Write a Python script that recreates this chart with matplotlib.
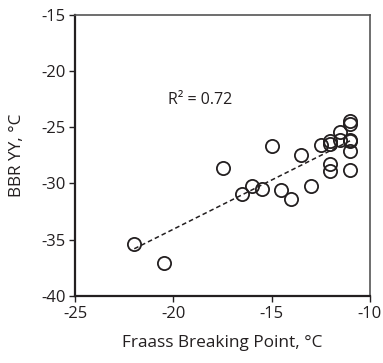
import numpy as np
import matplotlib.pyplot as plt

plt.rcParams['font.family'] = ['Open Sans', 'DejaVu Sans']
plt.rcParams['axes.unicode_minus'] = False

# Fraass breaking point vs BBR temperature
fraass = [-22, -20.5, -17.5, -16.5, -16, -15.5, -15, -14.5, -14, -13.5, -13,
          -12.5, -12, -12, -12, -12, -11.5, -11.5, -11, -11, -11, -11, -11, -11]
bbr = [-35.4, -37.1, -28.6, -30.9, -30.2, -30.5, -26.7, -30.6, -31.4, -27.5, -30.2,
       -26.6, -26.2, -26.5, -28.3, -28.9, -25.4, -26.1, -24.4, -24.7, -26.1, -26.2, -27.1, -28.8]
r2_text = "R² = 0.72"

fig = plt.figure(figsize=(3.83, 3.63), dpi=100)
ax = fig.add_axes([0.197, 0.185, 0.768, 0.774])

ax.plot(fraass, bbr, 'o', mfc='none', mec='#231f20', ms=9.5, mew=1.3)

# linear trend line over data range
k, b = np.polyfit(fraass, bbr, 1)
xs = np.array([min(fraass), max(fraass)])
ax.plot(xs, k * xs + b, '--', color='#231f20', lw=1.1, dashes=(3, 2))

ax.text(-20.3, -22.6, r2_text, fontsize=11.5, color='#231f20', va='center')

ax.set_xlim(-25, -10)
ax.set_ylim(-40, -15)
ax.set_xticks([-25, -20, -15, -10])
ax.set_yticks([-40, -35, -30, -25, -20, -15])
ax.set_xlabel("Fraass Breaking Point, °C", fontsize=12.4, color='#231f20', labelpad=10)
ax.set_ylabel("BBR YY, °C", fontsize=12.4, color='#231f20', labelpad=12)
ax.tick_params(direction='out', length=4, width=1, labelsize=12, colors='#231f20', pad=3)

for s in ['left', 'bottom']:
    ax.spines[s].set_color('#231f20')
    ax.spines[s].set_linewidth(1.6)
for s in ['top', 'right']:
    ax.spines[s].set_color('#555555')
    ax.spines[s].set_linewidth(1.2)

fig.savefig('out.png', dpi=100)
